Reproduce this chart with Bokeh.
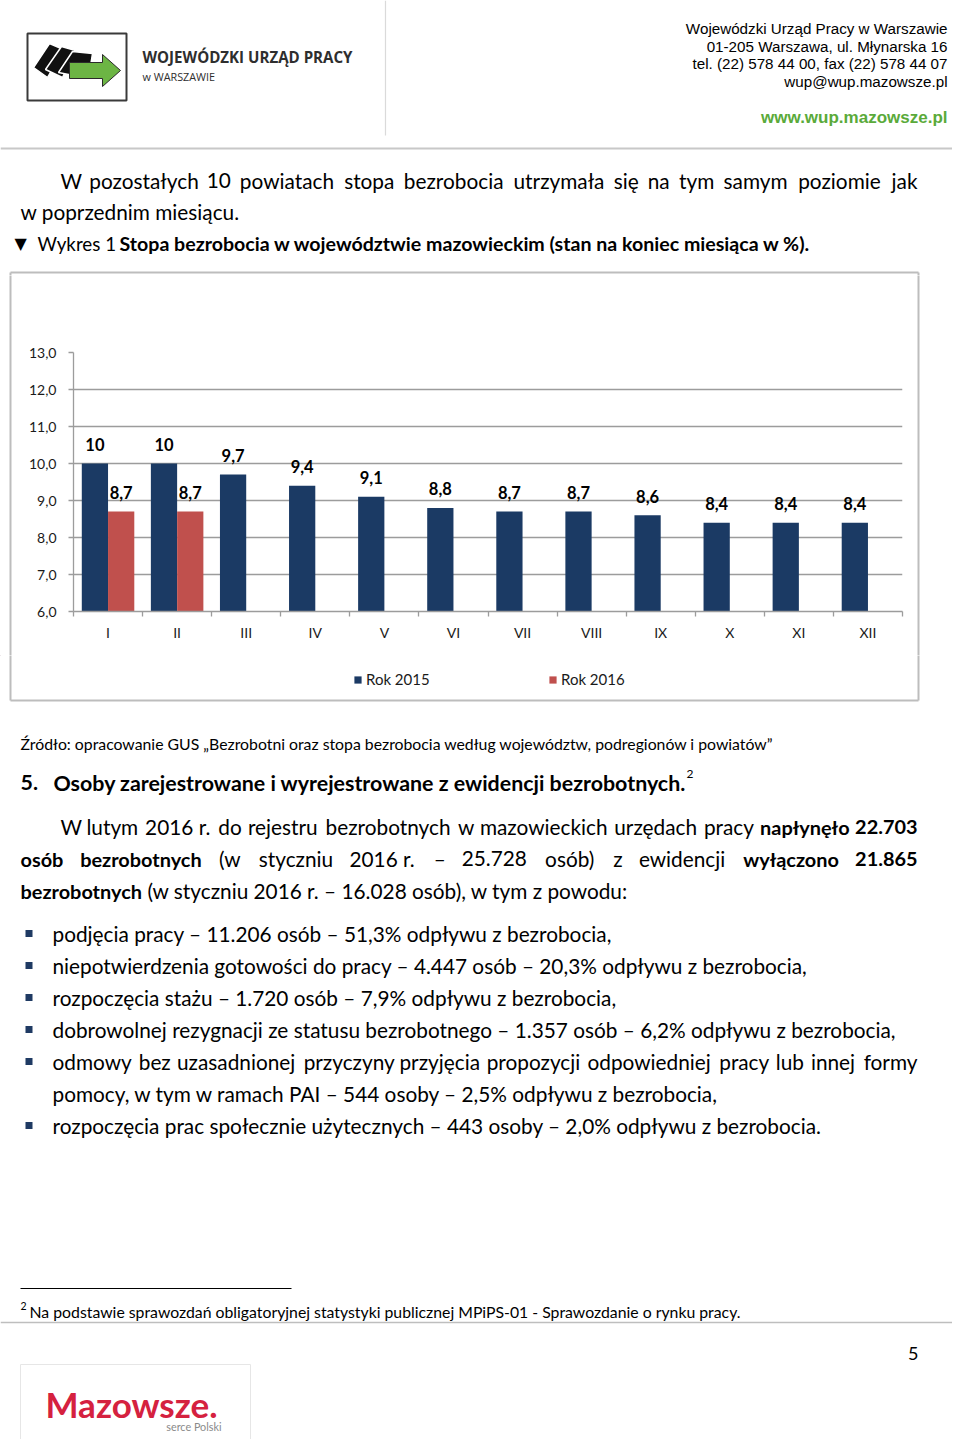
from bokeh.plotting import figure
from bokeh.models import (Range1d, FixedTicker, CustomJSTickFormatter, Legend, LegendItem)
from bokeh.layouts import column, row
from bokeh.core.properties import value
from bokeh.embed import file_html
from bokeh.resources import INLINE

# ---------------- chart data ----------------
months = ["I", "II", "III", "IV", "V", "VI", "VII", "VIII", "IX", "X", "XI", "XII"]
rate_2015 = [10.0, 10.0, 9.7, 9.4, 9.1, 8.8, 8.7, 8.7, 8.6, 8.4, 8.4, 8.4]
rate_2016 = [8.7, 8.7]
series_labels = ["Rok 2015", "Rok 2016"]
y_ticks = [6, 7, 8, 9, 10, 11, 12, 13]

# ---------------- page text ----------------
header_lines = ["Wojewódzki Urząd Pracy w Warszawie",
                "01-205 Warszawa, ul. Młynarska 16",
                "tel. (22) 578 44 00, fax (22) 578 44 07",
                "wup@wup.mazowsze.pl"]
header_url = "www.wup.mazowsze.pl"
logo_title = "WOJEWÓDZKI URZĄD PRACY"
logo_sub = "w WARSZAWIE"
para1 = [[("W pozostałych 10 powiatach stopa bezrobocia utrzymała się na tym samym poziomie jak", False)],
         [("w poprzednim miesiącu.", False)]]
caption_prefix = "Wykres 1"
caption_title = "Stopa bezrobocia w województwie mazowieckim (stan na koniec miesiąca w %)."
source_note = "Źródło: opracowanie GUS „Bezrobotni oraz stopa bezrobocia według województw, podregionów i powiatów”"
section_no = "5."
section_title = "Osoby zarejestrowane i wyrejestrowane z ewidencji bezrobotnych."
para2 = [
    [("W lutym 2016\u00a0r. do rejestru bezrobotnych w mazowieckich urzędach pracy", False), ("napłynęło 22.703", True)],
    [("osób bezrobotnych", True), ("(w styczniu 2016\u00a0r. – 25.728 osób) z ewidencji", False), ("wyłączono 21.865", True)],
    [("bezrobotnych", True), ("(w styczniu 2016 r. – 16.028 osób), w tym z powodu:", False)],
]
bullets = [
    ["podjęcia pracy – 11.206 osób – 51,3% odpływu z bezrobocia,"],
    ["niepotwierdzenia gotowości do pracy – 4.447 osób – 20,3% odpływu z bezrobocia,"],
    ["rozpoczęcia stażu – 1.720 osób – 7,9% odpływu z bezrobocia,"],
    ["dobrowolnej rezygnacji ze statusu bezrobotnego – 1.357 osób – 6,2% odpływu z bezrobocia,"],
    ["odmowy bez uzasadnionej przyczyny przyjęcia propozycji odpowiedniej pracy lub innej formy",
     "pomocy, w tym w ramach PAI – 544 osoby – 2,5% odpływu z bezrobocia,"],
    ["rozpoczęcia prac społecznie użytecznych – 443 osoby – 2,0% odpływu z bezrobocia."],
]
footnote_mark = "2"
footnote_text = "Na podstawie sprawozdań obligatoryjnej statystyki publicznej MPiPS-01 - Sprawozdanie o rynku pracy."
page_no = "5"
brand = "Mazowsze."
brand_sub = "serce Polski"

# ---------------- styles ----------------
BODY = "Lato"
BLUE = "#1B3A64"
RED = "#C0504D"
GRID = "#9C9C9C"
FRAME = "#BDBDBD"
PW = 952                 # page width used
REG = 20.8               # body regular size (px)
BLD = 19.9               # body bold size (px)
SMALL = 15.8
REF_SCALE = 22.55        # table em -> px
BOLD_K = 0.965

CW = {' ': .226, '!': .326, '%': .715, '(': .303, ')': .303, ',': .250, '-': .306, '.': .252,
      ':': .268, ';': .268, '„': .401, '”': .401, '–': .498, '\u00a0': .226}
for ch in "0123456789":
    CW[ch] = .54
for ch, wv in zip("ABCDEFGHIJKLMNOPQRSTUVWXYZ",
                  [.579, .544, .533, .615, .488, .459, .631, .623, .252, .319, .520, .420, .855,
                   .646, .662, .517, .673, .543, .459, .487, .642, .567, .890, .519, .487, .468]):
    CW[ch] = wv
for ch, wv in zip("abcdefghijklmnopqrstuvwxyz",
                  [.479, .525, .423, .525, .498, .305, .471, .525, .229, .239, .455, .229, .799,
                   .525, .527, .525, .525, .349, .391, .335, .525, .452, .715, .433, .453, .395]):
    CW[ch] = wv
for a, b in zip("ąćęńóśźżĄĆĘŃÓŚŹŻ", "acenoszzACENOSZZ"):
    CW[a] = CW[b]
CW['ł'] = .24
CW['Ł'] = .43


def est(s, bold=False):
    return sum(CW.get(ch, .5) for ch in s) * (BOLD_K if bold else 1.0) * REF_SCALE


def no_align(p):
    if "frame_align" in p.properties():
        p.frame_align = False


def page_fig(x0, x1, y0, y1):
    p = figure(width=x1 - x0, height=y1 - y0, x_range=Range1d(x0, x1), y_range=Range1d(y1, y0),
               output_backend="svg", toolbar_location=None, x_axis_type=None, y_axis_type=None,
               min_border=0)
    p.grid.visible = False
    p.outline_line_color = None
    p.background_fill_color = "white"
    p.border_fill_color = "white"
    no_align(p)
    return p


def put(p, x, y, s, size, bold=False, color="#000000", align="left", font=BODY):
    p.text(x=[x], y=[y], text=[s], text_font=value(font), text_font_size=value(f"{size}px"),
           text_font_style="bold" if bold else "normal",
           text_align=align, text_baseline="middle", text_color=color)


def justify(p, segs, x0, x1, y):
    toks = []
    for t, b in segs:
        for w in t.split(" "):
            toks.append((w, b))
    ws = [est(t, b) for t, b in toks]
    gap = (x1 - x0 - sum(ws)) / (len(toks) - 1)
    x = x0
    for i, ((t, b), w) in enumerate(zip(toks, ws)):
        sz = BLD if b else REG
        if i == len(toks) - 1:
            put(p, x1, y, t, sz, bold=b, align="right")
        else:
            put(p, x, y, t, sz, bold=b)
        x += w + gap


def flow(p, segs, x0, y):
    x = x0
    for t, b in segs:
        put(p, x, y, t, BLD if b else REG, bold=b)
        x += est(t + " ", b)


# geometry of the page parts (reference pixels)
TOP_END = 275
CHART_END = 655
PAGE_END = 1439
BOX_L, BOX_R, BOX_T, BOX_B = 10, 918, 272, 700
CH_L, CH_R = 12, 916

# ================= top part =================
top = page_fig(0, PW, 0, TOP_END)
top.segment(x0=[385], y0=[0], x1=[385], y1=[135], line_color="#DADADA", line_width=1.2)
top.segment(x0=[0], y0=[148], x1=[957], y1=[148], line_color="#C8C8C8", line_width=2)
# logo
top.quad(left=[27], right=[126], top=[33], bottom=[100], fill_color="white",
         line_color="#3A3A3A", line_width=2)
cards = [
    ([33, 49, 63, 47], [67, 43, 49, 77]),
    ([45, 61, 75, 62], [69, 46, 50, 77]),
    ([58, 72, 92, 88], [72, 51, 53, 78]),
]
for cx, cy in cards:
    top.patch(cx, cy, fill_color="#111111", line_color="white", line_width=1.5)
top.patch([69, 102, 102, 120, 102, 102, 69], [62, 62, 54, 70, 86, 78, 78],
          fill_color="#6CB544", line_color="#2A2A2A", line_width=1)
put(top, 142, 56, logo_title, 15.1, bold=True, color="#2E2E2E", font="Open Sans")
put(top, 142, 76, logo_sub, 10.8, color="#2E2E2E", font="Open Sans")
for i, s in enumerate(header_lines):
    put(top, 947, [28, 46, 63, 81][i], s, 15.2, align="right", font="Liberation Sans")
put(top, 947, 117, header_url, 17, bold=True, color="#5AAA3A", align="right",
    font="Liberation Sans")
# paragraph 1 and caption
justify(top, para1[0], 60, 917, 180)
flow(top, para1[1], 20, 211)
put(top, 14, 243, "▼", 16, font="DejaVu Sans")
put(top, 37, 243, caption_prefix, 18.8)
put(top, 119, 243, caption_title, 19.6, bold=True)
# chart frame: top edge
top.segment(x0=[BOX_L, BOX_L, BOX_R], y0=[BOX_T, BOX_T, BOX_T], x1=[BOX_R, BOX_L, BOX_R],
            y1=[BOX_T, TOP_END + 1, TOP_END + 1], line_color=FRAME, line_width=2)

# ================= chart =================
c = figure(width=CH_R - CH_L, height=CHART_END - TOP_END, x_range=Range1d(0, 12),
           y_range=Range1d(6, 13), output_backend="svg", toolbar_location=None,
           min_border_left=61, min_border_right=14, min_border_top=77, min_border_bottom=44)
no_align(c)
c.outline_line_color = None
c.xgrid.visible = False
c.ygrid.ticker = FixedTicker(ticks=y_ticks)
c.ygrid.grid_line_color = GRID
c.ygrid.grid_line_width = 1.3

x15 = [i + 0.31 for i in range(len(rate_2015))]
x16 = [i + 0.69 for i in range(len(rate_2016))]
r15 = c.vbar(x=x15, top=rate_2015, bottom=6, width=0.38, fill_color=BLUE, line_color=None)
r16 = c.vbar(x=x16, top=rate_2016, bottom=6, width=0.38, fill_color=RED, line_color=None)


def fmt(v):
    return str(int(v)) if v == int(v) else f"{v:.1f}".replace(".", ",")


for xs, ys in ((x15, rate_2015), (x16, rate_2016)):
    c.text(x=xs, y=ys, text=[fmt(v) for v in ys], text_align="center", text_baseline="middle",
           y_offset=-19, text_font=value(BODY), text_font_size=value("16.5px"),
           text_font_style="bold", text_color="#000000")

yax = c.yaxis[0]
yax.ticker = FixedTicker(ticks=y_ticks)
yax.formatter = CustomJSTickFormatter(code="return tick.toFixed(1).replace('.', ',');")
yax.axis_line_color = GRID
yax.axis_line_width = 1.3
yax.major_tick_line_color = GRID
yax.major_tick_line_width = 1.3
yax.major_tick_out = 5
yax.major_tick_in = 0
yax.minor_tick_out = 0
yax.minor_tick_in = 0
yax.major_label_text_font = BODY
yax.major_label_text_font_size = "14px"
yax.major_label_text_color = "#1A1A1A"
yax.major_label_standoff = 12

xax = c.xaxis[0]
xax.ticker = FixedTicker(ticks=[i + 0.5 for i in range(12)], minor_ticks=list(range(13)))
xax.formatter = CustomJSTickFormatter(args=dict(m=months), code="return m[Math.floor(tick)];")
xax.axis_line_color = GRID
xax.axis_line_width = 1.3
xax.major_tick_out = 0
xax.major_tick_in = 0
xax.minor_tick_out = 5
xax.minor_tick_in = 0
xax.minor_tick_line_color = GRID
xax.minor_tick_line_width = 1.3
xax.major_label_text_font = BODY
xax.major_label_text_font_size = "14px"
xax.major_label_text_color = "#1A1A1A"
xax.major_label_standoff = 7

# side strips carrying the chart's outer frame
left = page_fig(0, CH_L, TOP_END, CHART_END)
left.segment(x0=[BOX_L], y0=[TOP_END - 1], x1=[BOX_L], y1=[CHART_END + 1], line_color=FRAME, line_width=2)
right = page_fig(CH_R, PW, TOP_END, CHART_END)
right.segment(x0=[BOX_R], y0=[TOP_END - 1], x1=[BOX_R], y1=[CHART_END + 1], line_color=FRAME, line_width=2)

# ================= bottom part =================
bot = page_fig(0, PW, CHART_END, PAGE_END)
bot.segment(x0=[BOX_L, BOX_R, BOX_L], y0=[CHART_END - 1, CHART_END - 1, BOX_B],
            x1=[BOX_L, BOX_R, BOX_R], y1=[BOX_B, BOX_B, BOX_B], line_color=FRAME, line_width=2)
# legend of the chart (swatch renderers styled like the chart's bars, kept off-page)
lg15 = bot.vbar(x=[-1000], top=[-1000], bottom=[-1001], width=1, fill_color=BLUE, line_color=None)
lg16 = bot.vbar(x=[-1000], top=[-1000], bottom=[-1001], width=1, fill_color=RED, line_color=None)
LEG_H = 18
for rnd, lab, lx in ((lg15, series_labels[0], 353), (lg16, series_labels[1], 548)):
    lg = Legend(items=[LegendItem(label=lab, renderers=[rnd])],
                location=(lx, PAGE_END - 679 - LEG_H / 2),
                glyph_width=9, glyph_height=9, label_standoff=4, padding=0, margin=0,
                border_line_color=None, background_fill_alpha=0, label_height=LEG_H,
                label_text_font=BODY, label_text_font_size="15px",
                label_text_color="#1A1A1A")
    bot.add_layout(lg)

put(bot, 20, 743, source_note, SMALL)
put(bot, 20, 782, section_no, 21.4, bold=True)
put(bot, 53, 782, section_title, 21.4, bold=True)
put(bot, 686, 773, footnote_mark, 12)
justify(bot, para2[0], 60, 917, 826)
justify(bot, para2[1], 20, 917, 858)
flow(bot, para2[2], 20, 890)

by = 933
bxs, bys = [], []
for lines in bullets:
    bxs.append(28.5)
    bys.append(by)
    for j, ln in enumerate(lines):
        if j == 0 and len(lines) > 1:
            justify(bot, [(ln, False)], 52, 917, by)
        else:
            put(bot, 52, by, ln, REG)
        by += 32
bot.scatter(x=bxs, y=bys, marker="square", size=7, fill_color="#1F3A63", line_color=None)

bot.segment(x0=[20], y0=[1288], x1=[291], y1=[1288], line_color="#000000", line_width=1)
put(bot, 20, 1305, footnote_mark, 10.5)
put(bot, 29, 1311, footnote_text, SMALL)
bot.segment(x0=[0], y0=[1322], x1=[957], y1=[1322], line_color="#BEBEBE", line_width=1.5)
put(bot, 918, 1353, page_no, 18, align="right")
bot.quad(left=[20], right=[250], top=[1364], bottom=[1460], fill_color="white",
         line_color="#E6E6E6", line_width=1)
put(bot, 45, 1403, brand, 35, bold=True, color="#D5213F")
put(bot, 221, 1426, brand_sub, 10.8, color="#8A8A8A", align="right")

layout = column(top, row(left, c, right, spacing=0), bot, spacing=0)
open("out.html", "w").write(file_html(layout, INLINE))
